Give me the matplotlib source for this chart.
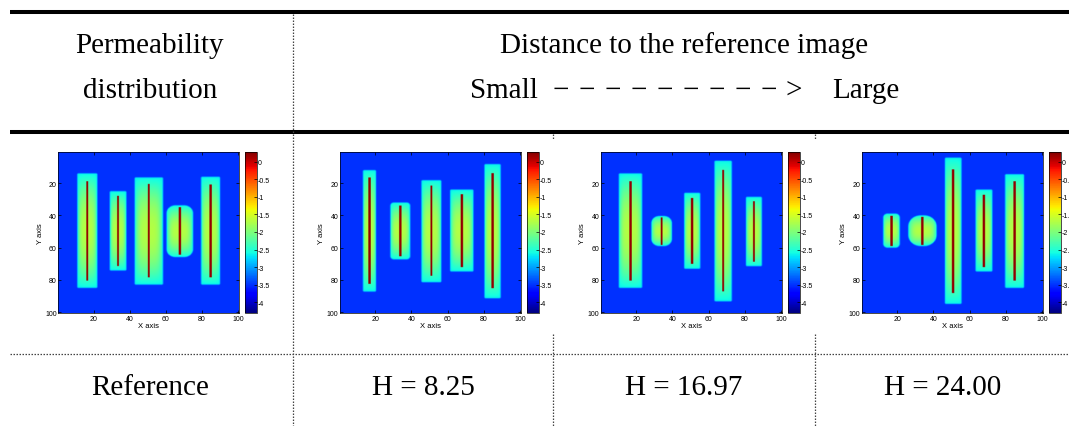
import numpy as np
import matplotlib
matplotlib.use("Agg")
import matplotlib.pyplot as plt
from matplotlib.ticker import FuncFormatter

plt.rcParams["axes.unicode_minus"] = False

# channel geometry per panel: (x centre, half width, top, bottom, line top, line bottom, corner radius)
ref_channels = [
    (16.7, 5.55, 14.3, 85.0, 19.1, 80.5, 0.8),
    (33.7, 4.6, 25.3, 74.3, 28.2, 71.6, 0.8),
    (50.7, 7.85, 16.8, 83.0, 21.0, 78.4, 0.8),
    (67.8, 7.35, 34.0, 66.0, 35.0, 64.5, 5.0),
    (84.8, 5.25, 16.4, 83.0, 21.2, 78.4, 0.8),
]
h825_channels = [
    (16.8, 3.6, 12.3, 87.3, 17.0, 82.5, 0.8),
    (33.8, 5.5, 32.3, 67.4, 34.0, 65.4, 2.0),
    (51.0, 5.5, 18.5, 81.5, 22.0, 77.4, 0.8),
    (67.8, 6.45, 24.3, 74.9, 27.2, 72.2, 0.8),
    (84.8, 4.5, 8.6, 91.4, 14.3, 85.2, 0.8),
]
h1697_channels = [
    (16.8, 6.45, 14.3, 85.0, 19.1, 80.5, 0.8),
    (34.0, 5.7, 40.6, 59.2, 41.6, 58.4, 4.5),
    (50.9, 4.45, 26.3, 73.2, 29.4, 70.1, 0.8),
    (68.0, 4.8, 6.5, 93.3, 12.3, 87.3, 0.8),
    (85.0, 4.4, 28.8, 71.6, 31.5, 68.7, 0.8),
]
h2400_channels = [
    (16.8, 4.6, 39.1, 60.2, 40.6, 59.2, 2.5),
    (33.9, 7.85, 40.2, 59.2, 41.2, 58.4, 7.0),
    (50.9, 4.6, 4.6, 94.9, 11.7, 88.3, 0.8),
    (67.9, 4.65, 24.3, 74.9, 27.4, 72.2, 0.8),
    (84.8, 5.25, 14.8, 85.0, 19.1, 80.5, 0.8),
]
panels = [ref_channels, h825_channels, h1697_channels, h2400_channels]
captions = ["Reference", "H = 8.25", "H = 16.97", "H = 24.00"]
axis_ticks = [20, 40, 60, 80, 100]
cbar_ticks = [0, -0.5, -1, -1.5, -2, -2.5, -3, -3.5, -4]

BG, EDGE, CENTER, LINE = -3.5, -2.65, -1.7, 0.2
VMIN, VMAX = -4.3, 0.28

W, H = 1069, 427


def field(channels, n=300):
    step = 100.0 / n
    g = 0.5 + step / 2 + step * np.arange(n)
    X, Y = np.meshgrid(g, g)
    F = np.full(X.shape, BG)
    for xc, hw, y0, y1, ly0, ly1, r in channels:
        yc, hh = (y0 + y1) / 2, (y1 - y0) / 2
        dx, dy = np.abs(X - xc), np.abs(Y - yc)
        qx, qy = dx - (hw - r), dy - (hh - r)
        sd = (np.hypot(np.maximum(qx, 0), np.maximum(qy, 0))
              + np.minimum(np.maximum(qx, qy), 0) - r)
        inside = np.clip(0.5 - sd / 0.8, 0, 1)
        fill = EDGE + (CENTER - EDGE) * np.clip(1 - (dy / hh) ** 2, 0, 1) \
            * np.clip(1 - (dx / hw) ** 4, 0, 1)
        F = F * (1 - inside) + fill * inside
        line = (dx <= 0.6) & (Y >= ly0) & (Y <= ly1)
        F[line] = LINE
    return F


def box(l, t, w, h):
    return [l / W, 1 - (t + h) / H, w / W, h / H]


fig = plt.figure(figsize=(W / 100, H / 100), dpi=100)

# table frame and text
tb = fig.add_axes([0, 0, 1, 1])
tb.set_xlim(0, W)
tb.set_ylim(H, 0)
tb.axis("off")
for y in (13, 133):
    tb.plot([10, W], [y, y], color="black", lw=2.9, solid_capstyle="butt")
dot = dict(color="#444444", lw=0.9, linestyle=(0, (1.2, 1.2)))
tb.plot([10, W], [355, 355], **dot)
tb.plot([293, 293], [15, H], **dot)
for x in (553, 815):
    tb.plot([x, x], [335, H], **dot)
    tb.plot([x, x], [135, 141], **dot)

serif = dict(family=["Liberation Serif", "DejaVu Serif"], fontsize=21,
             va="baseline")
tb.text(150, 53, "Permeability", ha="center", **serif)
tb.text(150, 98, "distribution", ha="center", **serif)
tb.text(684, 53, "Distance to the reference image", ha="center", **serif)
tb.text(470, 98, "Small", ha="left", **serif)
for i in range(9):
    tb.text(561 + 26 * i, 98, "\u2212", ha="center", **serif)
tb.text(794, 98, ">", ha="center", **serif)
tb.text(899, 98, "Large", ha="right", **serif)
for cx, cap in zip([150, 423, 684, 943], captions):
    tb.text(cx, 395, cap, ha="center", **serif)

# heat maps
sans = ["Liberation Sans", "DejaVu Sans"]
img_left = [58.3, 340, 601, 862]
cb_left = [245, 527, 788, 1049]
top, height = 152.7, 161.3
fmt = FuncFormatter(lambda v, p: f"{v:g}")

for channels, il, cl in zip(panels, img_left, cb_left):
    ax = fig.add_axes(box(il, top, 180.7, height))
    im = ax.imshow(field(channels), cmap="jet", vmin=VMIN, vmax=VMAX,
                   extent=(0.5, 100.5, 100.5, 0.5), aspect="auto",
                   interpolation="bilinear")
    ax.set_xticks(axis_ticks)
    ax.set_yticks(axis_ticks)
    ax.tick_params(direction="in", length=2, width=0.5, labelsize=5, pad=1.2,
                   top=True, right=True)
    for lab in ax.get_xticklabels() + ax.get_yticklabels():
        lab.set_family(sans)
    for s in ax.spines.values():
        s.set_linewidth(0.5)
    ax.set_xlabel("X axis", fontsize=5.5, family=sans, labelpad=0.5)
    ax.set_ylabel("Y axis", fontsize=5.5, family=sans, labelpad=1)

    cax = fig.add_axes(box(cl, top, 11.7, height))
    cb = fig.colorbar(im, cax=cax)
    cb.set_ticks(cbar_ticks)
    cb.ax.yaxis.set_major_formatter(fmt)
    cb.ax.tick_params(direction="in", length=2, width=0.5, labelsize=5, pad=1)
    for lab in cb.ax.get_yticklabels():
        lab.set_family(sans)
    cb.outline.set_linewidth(0.5)

fig.savefig("out.png", dpi=100)
